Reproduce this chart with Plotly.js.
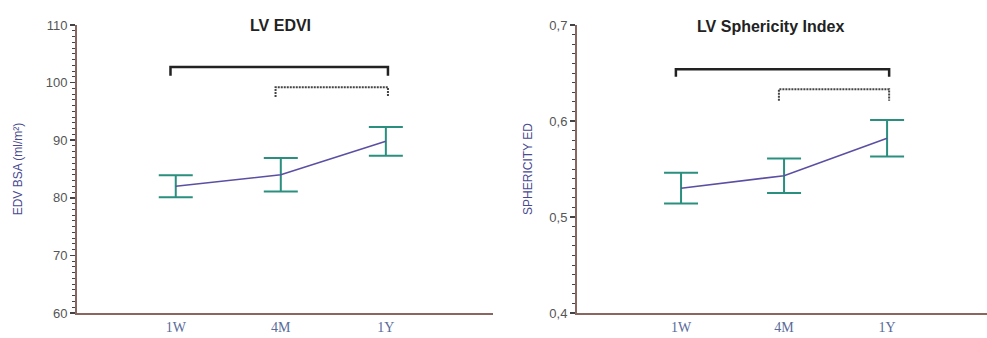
<!DOCTYPE html>
<html>
<head>
<meta charset="utf-8">
<script src="https://cdn.plot.ly/plotly-3.0.1.min.js"></script>
<style>html,body{margin:0;padding:0;background:#fff;}#chart{width:987px;height:338px;}</style>
</head>
<body>
<div id="chart"></div>
<script>
// Categories
const categories = ['1W', '4M', '1Y'];
const catPos = [0, 1, 2];

// LV EDVI (ml/m²)
const edviMean = [82.0, 84.0, 89.8];
const edviErr = [1.9, 2.9, 2.5];

// LV Sphericity Index
const sphMean = [0.530, 0.543, 0.582];
const sphErr = [0.016, 0.018, 0.019];

// Significance brackets: [from index, to index, height, drop, dash]
const edviBracketFrom = [0, 1];
const edviBracketTo = [2, 2];
const edviBracketY = [102.7, 99.2];
const edviBracketDrop = [1.5, 1.7];
const sphBracketFrom = [0, 1];
const sphBracketTo = [2, 2];
const sphBracketY = [0.654, 0.633];
const sphBracketDrop = [0.008, 0.012];
const bracketDash = ['solid', 'dot'];

const lineColor = '#5a4fa3';
const errColor = '#2a8f7e';
const axisColor = '#8a6660';

const traces = [];
function addSeries(mean, err, xa, ya) {
  traces.push({
    x: catPos, y: mean, xaxis: xa, yaxis: ya, type: 'scatter', mode: 'lines',
    line: {color: lineColor, width: 1.6},
    error_y: {type: 'data', array: err, visible: true, color: errColor, thickness: 2, width: 17},
    showlegend: false, hoverinfo: 'skip'
  });
}
function addBrackets(from, to, ys, drops, xa, ya) {
  for (let i = 0; i < from.length; i++) {
    traces.push({
      x: [catPos[from[i]] - 0.05, catPos[from[i]] - 0.05, catPos[to[i]] + 0.02, catPos[to[i]] + 0.02],
      y: [ys[i] - drops[i], ys[i], ys[i], ys[i] - drops[i]],
      xaxis: xa, yaxis: ya, type: 'scatter', mode: 'lines',
      line: {color: bracketDash[i] === 'solid' ? '#222' : '#444', width: bracketDash[i] === 'solid' ? 2.5 : 2, dash: bracketDash[i] === 'solid' ? 'solid' : '2px,1px'},
      showlegend: false, hoverinfo: 'skip'
    });
  }
}
addSeries(edviMean, edviErr, 'x', 'y');
addBrackets(edviBracketFrom, edviBracketTo, edviBracketY, edviBracketDrop, 'x', 'y');
addSeries(sphMean, sphErr, 'x2', 'y2');
addBrackets(sphBracketFrom, sphBracketTo, sphBracketY, sphBracketDrop, 'x2', 'y2');

const xTickFont = {family: 'Liberation Serif, serif', size: 14, color: '#5a6a9a'};
const yTickFont = {family: 'Liberation Sans, Arial, sans-serif', size: 13, color: '#555'};
const yTitleFont = {family: 'Liberation Sans, Arial, sans-serif', size: 12, color: '#4a4a92'};

function xAxis(domain, range, anchor) {
  return {
    domain: domain, range: range, anchor: anchor,
    tickvals: catPos, ticktext: categories, ticks: '',
    tickfont: xTickFont, showgrid: false, zeroline: false,
    showline: true, linecolor: axisColor, linewidth: 2, fixedrange: true
  };
}

const layout = {
  width: 987, height: 338,
  margin: {l: 0, r: 0, t: 0, b: 0},
  paper_bgcolor: '#fff', plot_bgcolor: '#fff',
  separators: ',.',
  showlegend: false,
  xaxis: xAxis([77/987, 493/987], [-0.94, 3.02], 'y'),
  xaxis2: xAxis([577/987, 1], [-1.01, 2.97], 'y2'),
  yaxis: {
    domain: [1 - 313/338, 1 - 25/338], range: [60, 110], anchor: 'x',
    dtick: 10, ticks: 'outside', ticklen: 5, tickwidth: 1.5, tickcolor: '#444',
    minor: {dtick: 1, ticks: 'outside', ticklen: 3, tickwidth: 1, tickcolor: '#444', showgrid: false},
    tickfont: yTickFont, showgrid: false, zeroline: false,
    showline: true, linecolor: axisColor, linewidth: 2,
    title: {text: 'EDV BSA (ml/m²)', font: yTitleFont, standoff: 20}
  },
  yaxis2: {
    domain: [1 - 313/338, 1 - 25/338], range: [0.4, 0.7], anchor: 'x2',
    dtick: 0.1, tickformat: '.1f', ticks: 'outside', ticklen: 5, tickwidth: 1.5, tickcolor: '#444',
    minor: {dtick: 0.01, ticks: 'outside', ticklen: 3, tickwidth: 1, tickcolor: '#444', showgrid: false},
    tickfont: yTickFont, showgrid: false, zeroline: false,
    showline: true, linecolor: axisColor, linewidth: 2,
    title: {text: 'SPHERICITY ED', font: yTitleFont, standoff: 14}
  },
  annotations: [
    {text: '<b>LV EDVI</b>', xref: 'paper', yref: 'paper', x: 280/987, y: 1 - 25/338,
     showarrow: false, xanchor: 'center', yanchor: 'middle',
     font: {family: 'Liberation Sans, Arial, sans-serif', size: 16, color: '#222'}},
    {text: '<b>LV Sphericity Index</b>', xref: 'paper', yref: 'paper', x: 770/987, y: 1 - 27/338,
     showarrow: false, xanchor: 'center', yanchor: 'middle',
     font: {family: 'Liberation Sans, Arial, sans-serif', size: 16, color: '#222'}}
  ]
};

Plotly.newPlot('chart', traces, layout, {staticPlot: true, displayModeBar: false});
</script>
</body>
</html>
